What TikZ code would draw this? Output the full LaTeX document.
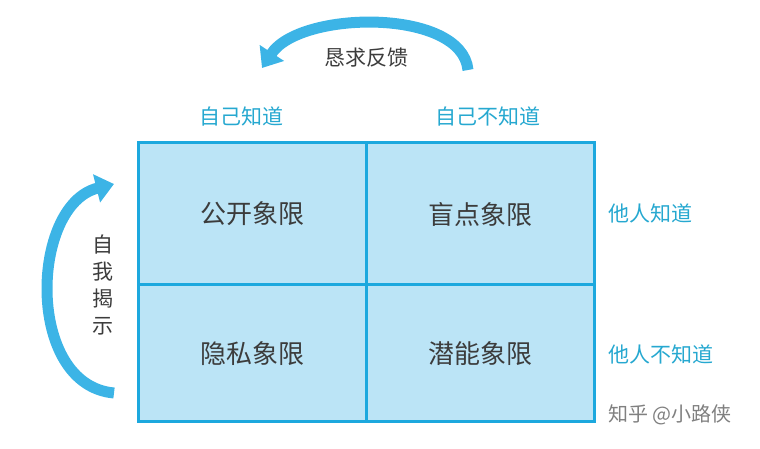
\documentclass[tikz,border=0pt]{standalone}
\usepackage{fontspec}
\setmainfont{Noto Sans CJK SC}
\usetikzlibrary{arrows.meta}
\definecolor{cellfill}{RGB}{187,228,246}
\definecolor{cellline}{RGB}{28,168,222}
\definecolor{labcyan}{RGB}{38,168,208}
\definecolor{arrowblue}{RGB}{60,180,230}
\definecolor{textgray}{RGB}{60,60,60}
\tikzset{
  cell/.style={draw=cellline, fill=cellfill, line width=3pt},
  quad/.style={text=textgray, font=\fontsize{26}{26}\selectfont},
  side/.style={text=labcyan, font=\fontsize{21}{21}\selectfont},
  curvearrow/.style={draw=arrowblue, line width=11pt, -{Triangle[width=28pt,length=18pt]}},
  arrowlabel/.style={text=textgray, font=\fontsize{21}{21}\selectfont}
}
\begin{document}
\begin{tikzpicture}[x=1pt,y=-1pt]
  \useasboundingbox (0,0) rectangle (760,449);
  % quadrants
  \draw[cell] (138,143) rectangle (366,284);
  \draw[cell] (366,143) rectangle (594,284);
  \draw[cell] (138,284) rectangle (366,421);
  \draw[cell] (366,284) rectangle (594,421);
  \node[quad] (open) at (252,214) {公开象限};
  \node[quad] (blind) at (480,214) {盲点象限};
  \node[quad] (hidden) at (252,354) {隐私象限};
  \node[quad] (unknown) at (480,354) {潜能象限};
  % labels
  \node[side] (selfknow) at (241,116) {自己知道};
  \node[side] (selfnot) at (488,116) {自己不知道};
  \node[side] (otherknow) at (650,213) {他人知道};
  \node[side] (othernot) at (661,354) {他人不知道};
  % arrows
  \coordinate (fbstart) at (468,70);
  \coordinate (fbend) at (262,68);
  \draw[curvearrow] (fbstart) .. controls (462,8) and (300,10) .. (fbend);
  \node[arrowlabel] (feedback) at (366,58) {恳求反馈};
  \coordinate (dsstart) at (114,393);
  \coordinate (dsend) at (114,184);
  \draw[curvearrow] (dsstart) .. controls (25,385) and (30,205) .. (dsend);
  \node[arrowlabel, align=center, font=\fontsize{21}{27}\selectfont] (disclose) at (103,285) {自\\我\\揭\\示};
  \node[text=gray, font=\fontsize{20}{20}\selectfont] (brand) at (670,415) {知乎 @小路侠};
\end{tikzpicture}
\end{document}
